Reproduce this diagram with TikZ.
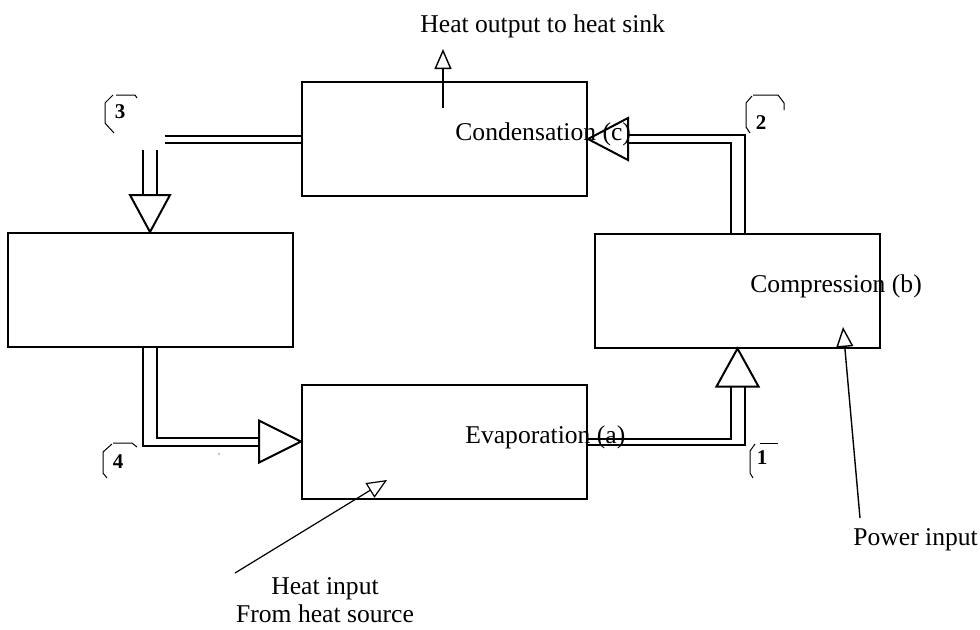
\documentclass[tikz,border=0pt]{standalone}
\usepackage{fontspec}
\setmainfont{Liberation Serif}
\usetikzlibrary{arrows.meta,calc}
\tikzset{
  box/.style={draw, line width=1pt, minimum width=142.5pt, minimum height=57pt, inner sep=0pt},
  pipe/.style={line width=1pt},
  pipehead/.style={line width=1pt, line join=miter},
  txt/.style={anchor=base west, inner sep=0pt, font=\fontsize{12.8}{15}\selectfont},
  tagnum/.style={inner sep=0pt, font=\fontsize{10.5}{12}\selectfont\bfseries},
  tagline/.style={line width=0.5pt},
  heatarrow/.style={-{Triangle[open,length=10pt,width=8.5pt]}, line width=0.7pt}
}
\begin{document}
\begin{tikzpicture}[x=0.5pt,y=-0.5pt]
      \useasboundingbox (0,0) rectangle (980,629);

      % The four stages
      \node[box] (cond) at (444.5,139) {};
      \node[box] (exp) at (150,290) {};
      \node[box] (comp) at (737.5,290.5) {};
      \node[box] (evap) at (444.5,441.5) {};

      % Pipe from compression to condensation
      \draw[pipe] ($(comp.north)+(7,0)$) |- ($(cond.east)+(40,-4)$);
      \draw[pipe] ($(comp.north)+(-7,0)$) |- ($(cond.east)+(40,4)$);
      \draw[pipehead] (cond.east) -- ++(40,-21) -- ++(0,42) -- cycle;

      % Pipe from evaporation to compression
      \draw[pipe] ($(evap.east)+(0,-3)$) -| ($(comp.south)+(-7,38)$);
      \draw[pipe] ($(evap.east)+(0,3)$) -| ($(comp.south)+(7,38)$);
      \draw[pipehead] (comp.south) -- ++(-21,38) -- ++(42,0) -- cycle;

      % Pipe from expansion to evaporation
      \draw[pipe] ($(exp.south)+(-7,0)$) |- ($(evap.west)+(-42,4)$);
      \draw[pipe] ($(exp.south)+(7,0)$) |- ($(evap.west)+(-42,-4)$);
      \draw[pipehead] (evap.west) -- ++(-42,-21) -- ++(0,42) -- cycle;

      % Pipe from condensation to expansion (left open)
      \draw[pipe] ($(cond.west)+(0,-3.5)$) -- ++(-136,0);
      \draw[pipe] ($(cond.west)+(0,3.5)$) -- ++(-136,0);
      \draw[pipe] ($(exp.north)+(-7,-82)$) -- ++(0,45);
      \draw[pipe] ($(exp.north)+(7,-82)$) -- ++(0,45);
      \draw[pipehead] (exp.north) -- ++(-20,-37) -- ++(40,0) -- cycle;
      \fill (219,454) circle (0.7);

      % Stage labels
      \node[txt] (condtxt) at (455,140) {Condensation (c)};
      \node[txt] (evaptxt) at (465,443) {Evaporation (a)};
      \node[txt] (comptxt) at (750,292) {Compression (b)};

      % State points
      \node[tagnum] (t3) at (120,112) {3};
      \draw[tagline, shift={(t3.center)}] (-4,-17) -- (15,-17) -- (17,-14);
      \draw[tagline, shift={(t3.center)}] (-7,-17) -- (-15,-9) -- (-15,11) -- (-6,21);
      \node[tagnum] (t2) at (761,123) {2};
      \draw[tagline, shift={(t2.center)}] (-8,-28) -- (17,-28) -- (23,-20) -- (23,-13);
      \draw[tagline, shift={(t2.center)}] (-9,-27) -- (-15,-20) -- (-15,4) -- (-11,10);
      \node[tagnum] (t4) at (118,462) {4};
      \draw[tagline, shift={(t4.center)}] (-5,-19) -- (14,-19) -- (19,-15);
      \draw[tagline, shift={(t4.center)}] (-6,-18) -- (-15,-10) -- (-15,11) -- (-11,16);
      \node[tagnum] (t1) at (762,458) {1};
      \draw[tagline, shift={(t1.center)}] (-2,-15) -- (16,-15);
      \draw[tagline, shift={(t1.center)}] (-7,-14) -- (-12,-7) -- (-12,15) -- (-9,20);

      % Heat and work
      \node[txt] (sink) at (420,32) {Heat output to heat sink};
      \coordinate (outfrom) at (443,108);
      \coordinate (outto) at (443,49);
      \draw[heatarrow] (outfrom) -- (outto);

      \node[txt, anchor=base] (heatin) at (325,594) {Heat input};
      \node[txt, anchor=base] (source) at (325,622) {From heat source};
      \coordinate (infrom) at (235,573);
      \coordinate (into) at (387,480);
      \draw[heatarrow, line width=0.6pt] (infrom) -- (into);

      \node[txt] (power) at (853,545) {Power input};
      \coordinate (powfrom) at (860,518);
      \coordinate (powto) at (843,327);
      \draw[heatarrow] (powfrom) -- (powto);
    \end{tikzpicture}
\end{document}
